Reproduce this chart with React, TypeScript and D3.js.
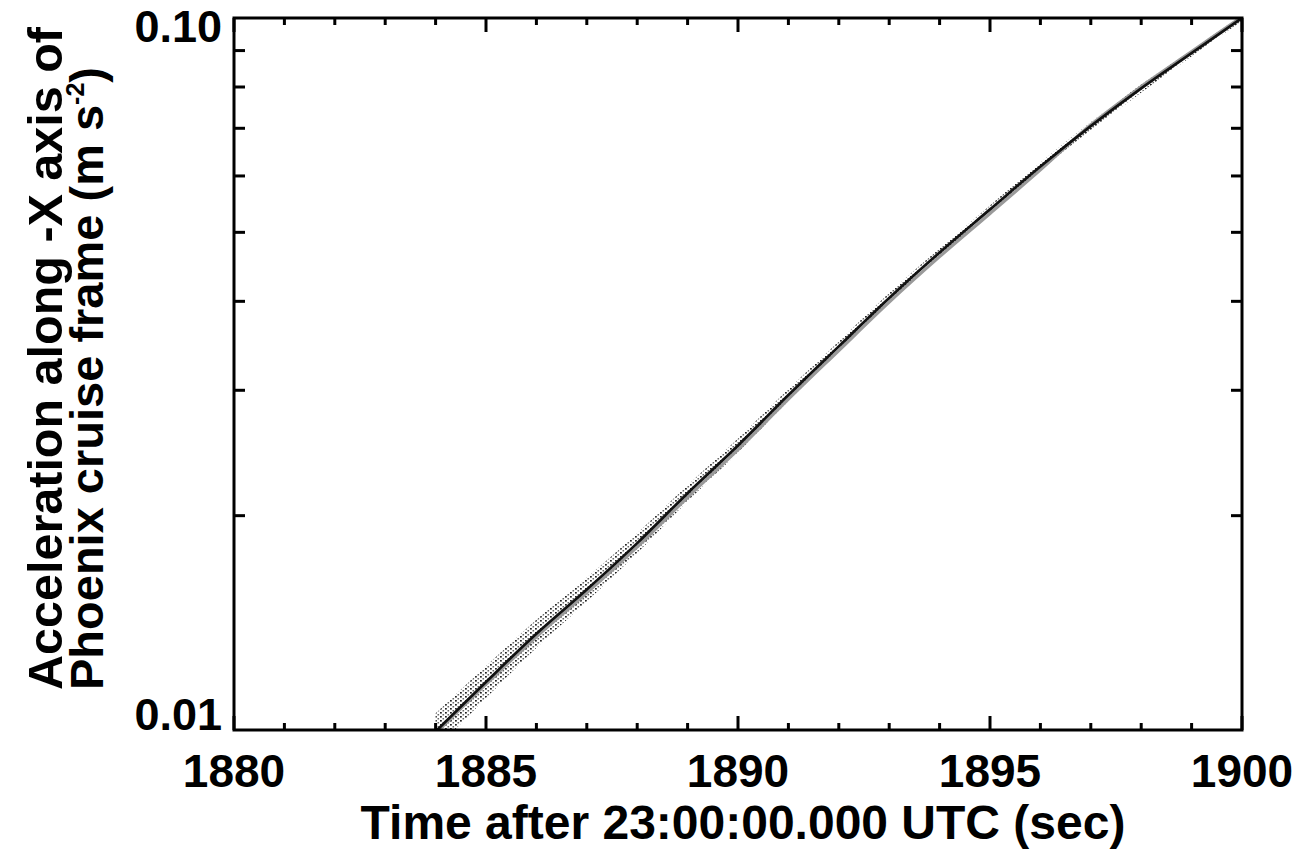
import React from "react";
import * as d3 from "d3";

// Time after 23:00:00.000 UTC (sec)
const times = [1884, 1885, 1886, 1887, 1888, 1889, 1890, 1891, 1892, 1893, 1894, 1895, 1896, 1897, 1898, 1899, 1900];
// main (black) measurement trace, m s^-2
const blackSeries = [0.00995, 0.01168, 0.01365, 0.01575, 0.0183, 0.02151, 0.0251, 0.02954, 0.03458, 0.04044, 0.04685, 0.05385, 0.06188, 0.0705, 0.07964, 0.08926, 0.1];
// second (grey) trace
const greySeries = [0.0099, 0.0116, 0.01352, 0.01558, 0.01808, 0.02122, 0.02476, 0.02915, 0.03412, 0.0399, 0.04622, 0.05315, 0.0612, 0.0708, 0.0801, 0.0897, 0.1004];
// spread of the noisy samples (upper / lower envelope)
const upperEnv = [0.01055, 0.0123, 0.01428, 0.01637, 0.0189, 0.02207, 0.02567, 0.03012, 0.03514, 0.0411, 0.04746, 0.05455, 0.06268, 0.07142, 0.08068, 0.09013, 0.101];
const lowerEnv = [0.00939, 0.01109, 0.01305, 0.01515, 0.01772, 0.02096, 0.02454, 0.02897, 0.03403, 0.03979, 0.04625, 0.05316, 0.06109, 0.0696, 0.07862, 0.0884, 0.099];

const xTicksMajor = [1880, 1885, 1890, 1895, 1900];
const xTicksMinor = [1881, 1882, 1883, 1884, 1886, 1887, 1888, 1889, 1891, 1892, 1893, 1894, 1896, 1897, 1898, 1899];
const yTicksMinor = [0.02, 0.03, 0.04, 0.05, 0.06, 0.07, 0.08, 0.09];
const yTickLabels = [
  { v: 0.1, label: "0.10" },
  { v: 0.01, label: "0.01" },
];

const W = 1300;
const H = 851;
const L = 234, R = 1242, T = 18, B = 730;
const FONT = "'Liberation Sans', Arial, Helvetica, sans-serif";

export default function App() {
  const x = d3.scaleLinear().domain([1880, 1900]).range([L, R]);
  const y = d3.scaleLog().domain([0.01, 0.1]).range([B, T]);

  const line = (vals: number[]) =>
    d3
      .line<number>()
      .x((_, i) => x(times[i]))
      .y((v) => y(v))
      .curve(d3.curveCatmullRom)(vals) as string;

  const band = d3
    .area<number>()
    .x((_, i) => x(times[i]))
    .y0((_, i) => y(lowerEnv[i]))
    .y1((_, i) => y(upperEnv[i]))
    .curve(d3.curveCatmullRom)(times) as string;

  return (
    <svg width={W} height={H} style={{ position: "absolute", left: 0, top: 0, background: "#fff" }}>
      <defs>
        <clipPath id="plot">
          <rect x={L} y={T} width={R - L} height={B - T} />
        </clipPath>
        <pattern id="dots" width={5} height={4} patternUnits="userSpaceOnUse">
          <rect x={0} y={0} width={1.8} height={1.6} fill="#222" />
          <rect x={2.5} y={2} width={1.6} height={1.5} fill="#666" />
        </pattern>
      </defs>
      <rect x={0} y={0} width={W} height={H} fill="#fff" />

      <g clipPath="url(#plot)">
        <path d={band} fill="url(#dots)" />
        <path d={line(greySeries)} fill="none" stroke="#9a9a9a" strokeWidth={3.2} />
        <path d={line(blackSeries)} fill="none" stroke="#111" strokeWidth={2.7} />
      </g>

      {/* frame */}
      <rect x={L} y={T} width={R - L} height={B - T} fill="none" stroke="#000" strokeWidth={3} />

      {/* x ticks */}
      {xTicksMajor.map((t) => (
        <g key={"xM" + t}>
          <line x1={x(t)} x2={x(t)} y1={B} y2={B - 14} stroke="#000" strokeWidth={3} />
          <line x1={x(t)} x2={x(t)} y1={T} y2={T + 14} stroke="#000" strokeWidth={3} />
          <text x={x(t)} y={787} textAnchor="middle" fontFamily={FONT} fontWeight="bold" fontSize={46}>
            {t}
          </text>
        </g>
      ))}
      {xTicksMinor.map((t) => (
        <g key={"xm" + t}>
          <line x1={x(t)} x2={x(t)} y1={B} y2={B - 7} stroke="#000" strokeWidth={3} />
          <line x1={x(t)} x2={x(t)} y1={T} y2={T + 7} stroke="#000" strokeWidth={3} />
        </g>
      ))}

      {/* y ticks */}
      {yTicksMinor.map((v) => (
        <g key={"ym" + v}>
          <line x1={L} x2={L + 11} y1={y(v)} y2={y(v)} stroke="#000" strokeWidth={3} />
          <line x1={R} x2={R - 11} y1={y(v)} y2={y(v)} stroke="#000" strokeWidth={3} />
        </g>
      ))}
      {yTickLabels.map((d) => (
        <text
          key={d.label}
          x={222}
          y={d.v === 0.1 ? 42 : 730}
          textAnchor="end"
          fontFamily={FONT}
          fontWeight="bold"
          fontSize={45}
        >
          {d.label}
        </text>
      ))}

      {/* axis titles */}
      <text x={743} y={839} textAnchor="middle" fontFamily={FONT} fontWeight="bold" fontSize={48}>
        Time after 23:00:00.000 UTC (sec)
      </text>
      <g fontFamily={FONT} fontWeight="bold">
        <text transform="translate(62,690) rotate(-90)" textAnchor="start" fontSize={48.5}>
          Acceleration along -X axis of
        </text>
        <text transform="translate(103,690) rotate(-90)" textAnchor="start" fontSize={47}>
          Phoenix cruise frame (m s
          <tspan fontSize={25} dy={-19}>-2</tspan>
          <tspan dy={19}>)</tspan>
        </text>
      </g>
    </svg>
  );
}
